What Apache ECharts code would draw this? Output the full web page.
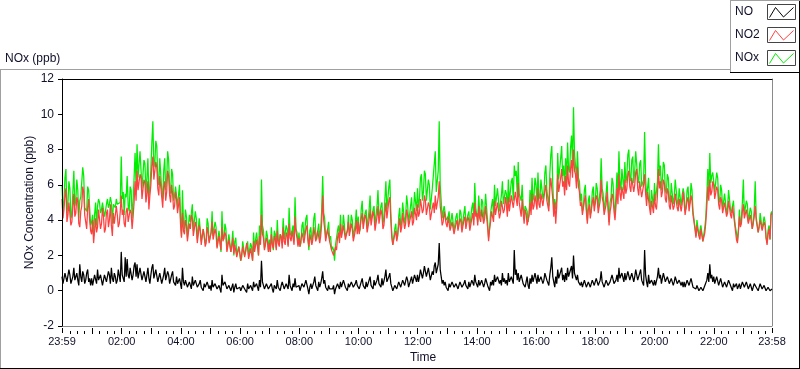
<!DOCTYPE html>
<html><head><meta charset="utf-8">
<script src="https://cdn.jsdelivr.net/npm/echarts@6/dist/echarts.min.js"></script>
<style>html,body{margin:0;padding:0;background:#fff}#c{width:800px;height:369px}</style>
</head><body><div id="c"></div>
<script>
// ---- data (one value every ~2 min, starting 23:59, ending 23:58 next day) ----
const seriesNames = ['NO', 'NO2', 'NOx'];
const seriesColors = ['#000000', '#ff4040', '#00ee00'];
const xTickMinutes = [0, 121, 241, 361, 481, 601, 721, 841, 961, 1081, 1201, 1321, 1439];
const xTickLabels = ['23:59', '02:00', '04:00', '06:00', '08:00', '10:00', '12:00', '14:00', '16:00', '18:00', '20:00', '22:00', '23:58'];
const totalMinutes = 1439;

const no2 = [
5.2,4.1,4.6,5.4,5.8,3.9,4.3,5.0,4.9,3.7,3.9,4.8,5.5,4.2,4.4,5.3,5.1,3.8,3.6,4.5,4.8,5.9,5.6,4.3,4.2,3.5,4.7,5.2,4.0,3.4,
3.2,4.0,2.7,3.4,4.1,3.3,3.6,4.6,4.5,3.5,3.8,4.7,4.2,3.3,3.5,4.4,4.6,3.6,4.0,4.9,3.7,3.1,4.4,3.8,3.9,4.8,4.3,3.6,3.8,4.5,
5.4,4.3,4.6,3.8,3.6,4.5,4.7,3.9,3.8,4.6,4.4,3.5,4.2,5.0,6.2,5.1,6.8,5.7,5.6,6.6,6.4,5.2,5.3,6.3,6.1,5.0,5.5,6.2,4.6,5.4,
6.0,7.1,7.6,6.3,6.4,7.3,7.0,5.8,5.4,6.5,6.6,5.3,4.7,5.9,6.2,5.1,5.6,6.8,6.5,5.4,5.0,6.0,5.5,4.6,4.8,5.6,5.2,4.4,4.5,5.3,
3.8,3.0,4.4,3.4,3.2,4.0,3.7,2.8,2.9,3.8,3.5,4.3,4.1,3.1,3.0,3.9,3.6,2.7,2.8,3.7,3.4,2.6,2.6,3.5,3.1,2.5,2.7,3.6,3.3,2.7,
2.6,3.3,3.9,2.9,2.8,3.5,3.2,2.4,2.4,3.1,3.0,2.3,3.6,2.8,2.7,3.3,3.1,2.2,2.3,2.9,2.9,2.2,2.5,3.0,2.1,2.6,2.6,1.9,2.0,2.5,
2.2,1.7,1.8,2.5,2.6,1.9,2.0,2.7,2.4,1.8,1.7,2.4,2.3,1.7,2.8,2.2,2.1,2.9,2.5,2.0,3.1,2.6,4.3,3.2,3.0,2.3,2.4,3.0,2.8,2.2,
2.7,2.2,3.2,2.6,2.4,3.1,2.9,2.3,3.4,2.7,2.5,3.2,3.0,2.4,3.6,2.8,2.6,3.3,3.1,2.5,3.8,3.0,2.8,3.4,3.3,2.6,4.2,3.3,3.0,2.5,
3.0,2.5,2.6,3.3,3.4,2.7,2.8,3.5,3.7,2.9,2.5,3.2,3.2,2.6,2.9,3.6,3.6,2.8,2.7,3.4,3.3,2.7,3.1,3.9,5.4,4.0,3.5,2.8,2.9,3.5,
3.6,2.8,2.9,2.3,2.4,2.0,1.9,2.5,2.3,3.0,3.3,2.7,3.8,3.0,3.1,3.7,3.6,2.9,2.8,3.4,3.9,3.1,3.2,3.8,3.5,2.8,2.7,3.4,4.0,3.2,
3.9,3.2,3.3,4.1,4.4,3.5,3.6,4.3,4.1,3.3,3.4,4.0,4.6,3.7,3.8,4.5,4.2,3.4,3.5,4.2,4.8,3.8,3.9,4.6,4.3,3.5,3.7,4.4,5.0,4.1,
4.6,5.1,5.3,4.0,3.0,2.6,2.6,3.2,3.4,2.8,2.9,3.7,4.1,3.3,3.6,4.4,4.4,3.5,3.8,4.6,4.3,3.6,3.5,4.2,4.5,3.7,3.9,4.7,4.8,4.0,
4.9,4.2,4.4,5.2,5.3,4.4,4.6,5.4,5.1,4.3,4.2,5.0,4.8,4.0,4.0,4.7,5.0,4.4,5.4,4.6,4.5,5.3,6.2,4.8,4.3,3.7,3.9,4.5,4.4,3.8,
3.6,4.2,4.1,3.4,3.3,3.9,3.8,3.2,3.2,3.8,4.0,3.4,3.5,4.1,3.9,3.3,3.3,4.0,4.2,3.5,3.6,4.2,4.0,3.4,3.4,4.1,4.4,3.7,5.0,4.2,
4.4,3.7,4.8,4.1,3.9,4.6,4.5,3.8,4.1,4.8,4.7,3.6,2.8,3.5,3.9,4.5,4.6,3.9,5.1,4.3,4.3,5.0,4.9,4.1,4.4,5.1,5.2,4.4,4.6,5.3,
4.9,4.2,5.3,4.5,4.6,5.4,5.5,4.7,4.8,5.6,5.6,4.8,6.1,5.0,4.9,4.2,5.2,4.4,3.8,4.6,4.4,3.7,3.6,4.3,5.0,4.3,5.5,4.6,4.8,5.4,
5.3,4.6,5.8,4.9,4.7,5.5,5.5,4.8,4.9,5.7,6.0,5.1,5.2,4.5,5.7,6.4,6.3,5.2,4.2,5.0,3.8,4.8,6.6,5.6,5.6,6.4,6.9,5.9,6.2,5.4,
6.5,5.7,7.1,6.1,5.9,6.9,7.4,6.4,8.0,6.8,6.6,5.8,7.0,5.9,5.6,4.8,5.0,4.3,4.4,5.1,5.4,4.5,3.8,4.6,4.9,4.1,4.2,5.0,5.3,4.5,
4.6,5.4,5.2,4.4,4.4,5.1,6.3,5.3,5.0,4.3,4.2,4.9,5.6,4.6,3.7,4.5,4.8,5.5,5.3,4.5,4.0,4.8,5.8,4.9,6.6,5.5,5.1,5.9,6.0,5.2,
6.3,5.5,5.8,6.6,6.8,5.9,5.6,6.4,6.5,5.6,6.0,6.7,6.9,5.8,5.4,6.2,6.2,5.3,5.2,6.0,6.6,5.5,4.8,5.6,5.5,4.7,4.3,5.1,5.0,4.4,
5.5,4.8,4.6,5.4,6.9,5.8,6.2,5.3,5.6,6.3,6.1,5.2,5.0,5.8,5.6,4.8,4.6,5.4,5.3,4.6,4.8,5.5,5.5,4.7,4.5,5.2,5.2,4.5,4.9,5.6,
5.0,4.3,4.4,5.1,5.3,4.5,4.6,5.4,5.1,4.3,4.2,3.5,3.0,3.7,3.8,3.1,2.9,3.5,3.4,2.8,2.7,3.3,3.9,4.8,5.9,5.1,6.3,5.4,5.6,6.2,
6.0,5.2,5.2,5.9,5.7,4.9,4.6,5.3,5.1,4.4,4.3,5.0,4.9,4.2,4.4,5.1,5.0,4.3,4.1,4.8,4.7,3.9,3.4,2.9,2.7,3.4,4.2,3.6,3.8,4.5,
4.9,4.1,4.0,4.6,4.5,3.8,3.7,4.3,4.2,3.5,3.6,4.2,4.8,4.0,3.9,3.3,3.4,4.0,4.0,3.4,3.3,3.9,3.7,3.0,2.6,3.2,3.5,2.9,4.3,4.4
];

const no = [
0.8,0.4,0.5,1.0,1.1,0.5,0.6,1.2,0.9,0.4,0.4,0.8,1.3,0.6,0.7,1.0,0.6,0.3,1.5,0.8,0.5,1.1,0.9,0.4,0.6,1.0,1.2,0.5,0.7,0.3,
0.7,0.3,0.4,0.9,0.9,0.4,1.2,0.6,0.5,0.9,0.8,0.3,0.4,0.9,1.0,0.5,0.6,1.1,0.9,0.4,1.3,0.7,0.5,1.0,0.8,0.4,0.6,1.2,1.1,0.5,
2.2,0.9,1.0,0.5,1.9,0.8,1.8,0.9,0.7,1.3,1.3,0.6,0.9,1.4,1.6,0.8,1.5,0.7,0.8,1.3,1.4,0.6,0.6,1.1,1.1,0.5,0.9,1.3,0.7,0.4,
0.9,1.3,1.5,0.7,0.8,1.2,1.2,0.5,0.6,1.0,1.0,0.4,0.5,0.9,1.3,0.6,0.7,1.1,0.9,0.4,0.5,0.9,1.1,0.5,0.6,0.3,0.8,0.4,0.4,0.7,
0.4,0.1,1.3,0.5,0.3,0.6,0.5,0.2,0.2,0.5,0.4,0.1,0.8,0.3,0.3,0.6,0.5,0.2,0.2,0.4,0.6,0.2,0.3,0.0,0.4,0.2,0.2,0.5,0.5,0.1,
0.3,0.0,0.6,0.2,0.2,0.4,0.4,0.1,0.1,0.3,0.3,-0.1,0.9,0.3,0.2,0.5,0.4,0.1,0.1,0.3,0.3,0.0,0.2,0.4,-0.1,0.2,0.4,0.1,0.2,0.0,
0.2,0.0,0.1,0.3,0.3,0.1,0.2,-0.1,0.4,0.1,0.1,0.3,0.2,0.0,0.5,0.2,0.2,0.4,0.3,0.0,0.6,0.2,1.7,0.5,0.4,0.1,0.2,0.4,0.3,0.1,
0.2,0.0,0.4,0.1,-0.1,0.3,0.3,0.1,0.6,0.2,0.2,0.0,0.3,0.5,0.5,0.1,0.2,0.4,0.4,0.1,0.9,0.3,0.3,0.0,0.4,0.2,0.7,0.2,0.3,0.1,
0.3,0.0,0.1,0.4,0.5,0.2,0.2,0.6,0.6,0.1,-0.2,0.2,0.4,0.1,0.3,0.5,0.8,0.3,0.2,0.0,0.5,0.2,0.4,0.7,1.1,0.4,0.6,0.2,0.3,0.0,
0.3,0.1,0.2,0.0,0.1,0.3,-0.2,0.1,0.2,0.4,0.4,0.1,0.5,0.2,0.3,0.6,0.6,0.2,0.2,0.0,0.4,0.2,0.3,0.5,0.5,0.2,0.2,0.4,0.6,0.3,
0.3,0.1,0.2,0.5,0.7,0.3,0.3,0.1,0.5,0.2,0.2,0.6,0.8,0.3,0.4,0.1,0.6,0.3,0.3,0.6,0.9,0.4,0.5,0.2,0.7,0.3,0.4,0.8,1.2,0.5,
0.6,0.8,1.0,0.4,0.2,0.0,0.1,0.3,0.4,0.1,0.2,0.5,0.6,0.2,0.3,0.6,0.7,0.3,0.4,0.8,0.6,0.2,0.3,0.6,0.8,0.4,0.5,0.9,0.9,0.5,
0.9,0.5,0.8,1.2,1.3,0.7,1.0,1.4,1.5,0.8,0.9,1.3,1.2,0.6,0.7,1.1,0.9,1.4,1.6,1.0,1.1,1.5,2.7,1.2,0.8,0.4,0.6,0.3,0.5,0.2,
0.3,0.0,0.4,0.2,0.2,0.5,0.5,0.2,0.2,0.4,0.4,0.1,0.3,0.5,0.5,0.2,0.2,0.4,0.6,0.3,0.3,0.1,0.5,0.2,0.3,0.6,0.6,0.3,0.9,0.5,
0.4,0.2,0.6,0.3,0.3,0.6,0.5,0.2,0.4,0.7,0.7,0.3,0.2,0.0,0.5,0.3,0.6,0.3,0.9,0.5,0.5,0.8,0.8,0.4,0.6,0.3,1.0,0.5,0.7,0.4,
0.6,0.3,1.0,0.5,0.5,0.8,0.9,0.4,2.3,0.9,1.2,0.6,1.0,0.5,0.6,0.9,0.8,0.4,0.4,0.2,0.5,0.8,0.3,0.1,0.7,0.4,0.9,0.5,0.6,1.0,
0.7,0.4,0.9,0.5,0.5,0.8,0.8,0.4,0.6,1.0,1.1,0.6,0.6,0.3,0.9,1.3,1.9,0.8,0.5,0.2,0.8,0.4,1.2,0.7,0.7,1.1,1.3,0.6,0.9,0.5,
1.0,0.6,1.3,0.8,0.8,1.2,1.4,0.7,2.0,1.0,1.1,0.6,0.9,0.5,0.6,0.3,0.5,0.2,0.3,0.6,0.6,0.2,0.2,0.5,0.5,0.2,0.3,0.6,0.6,0.3,
0.4,0.7,0.6,0.3,0.3,0.6,1.1,0.5,0.5,0.2,0.3,0.6,0.6,0.3,0.2,0.5,0.5,0.9,0.8,0.4,0.3,0.6,0.9,0.5,1.3,0.7,0.6,1.0,0.9,0.5,
1.0,0.6,0.7,1.1,1.2,0.6,0.6,1.0,1.1,0.5,0.8,1.2,1.1,0.6,0.7,1.0,1.2,0.6,0.6,0.3,2.3,0.9,0.5,0.2,0.9,0.4,0.3,0.6,0.6,0.3,
0.6,0.3,0.4,0.8,1.3,0.7,0.9,0.4,0.7,1.0,1.0,0.5,0.5,0.8,0.8,0.4,0.4,0.7,0.7,0.3,0.5,0.8,0.8,0.4,0.3,0.6,0.6,0.3,0.5,0.2,
0.5,0.2,0.3,0.6,0.6,0.3,0.4,0.7,0.6,0.2,0.3,0.1,0.1,0.3,0.3,0.0,0.1,0.2,0.2,0.0,0.1,0.3,0.3,0.6,1.0,0.5,1.5,0.7,0.9,0.5,
0.8,0.4,0.5,0.8,0.7,0.3,0.4,0.7,0.6,0.2,0.3,0.5,0.5,0.2,0.3,0.6,0.6,0.3,0.3,0.0,0.4,0.2,0.2,0.4,0.1,0.0,0.4,0.1,0.3,0.5,
0.6,0.2,0.3,0.5,0.4,0.1,0.2,0.4,0.3,0.0,0.2,0.4,0.5,0.2,0.3,0.0,0.2,0.4,0.3,0.1,0.1,0.3,0.2,0.0,0.1,0.2,0.2,0.0,0.1,0.1
];

const nox = [
6.0,4.5,5.1,6.4,6.9,4.4,4.9,6.2,5.8,4.1,4.3,5.6,6.8,4.8,5.1,6.3,5.7,4.1,5.1,5.3,5.3,7.0,6.5,4.7,4.8,4.5,5.9,5.7,4.7,3.7,
3.9,4.3,3.1,4.3,5.0,3.7,4.8,5.2,5.0,4.4,4.6,5.0,4.6,4.2,4.5,4.9,5.2,4.7,4.9,5.3,5.0,3.8,4.9,4.8,4.7,5.2,4.9,4.8,4.9,5.0,
7.6,5.2,5.6,4.3,5.5,5.3,6.5,4.8,4.5,5.9,5.7,4.1,5.1,6.4,7.8,5.9,8.3,6.4,6.4,7.9,7.8,5.8,5.9,7.4,7.2,5.5,6.4,7.5,5.3,5.8,
6.9,8.4,9.6,7.0,7.2,8.5,8.2,6.3,6.0,7.5,7.6,5.7,5.2,6.8,7.5,5.7,6.3,7.9,7.4,5.8,5.5,6.9,6.6,5.1,5.4,5.9,6.0,4.8,4.9,6.0,
4.2,3.1,5.7,3.9,3.5,4.6,4.2,3.0,3.1,4.3,3.9,4.4,4.9,3.4,3.3,4.5,4.1,2.9,3.0,4.1,4.0,2.8,2.9,3.5,3.5,2.7,2.9,4.1,3.8,2.8,
2.9,3.3,4.5,3.1,3.0,3.9,3.6,2.5,2.5,3.4,3.3,2.2,4.5,3.1,2.9,3.8,3.5,2.3,2.4,3.2,3.2,2.2,2.7,3.4,2.0,2.8,3.0,2.0,2.2,2.5,
2.4,1.7,1.9,2.8,2.9,2.0,2.2,2.6,2.8,1.9,1.8,2.7,2.5,1.7,3.3,2.4,2.3,3.3,2.8,2.0,3.7,2.8,6.3,3.7,3.4,2.4,2.6,3.4,3.1,2.3,
2.9,2.2,3.6,2.7,2.3,3.4,3.2,2.4,4.0,2.9,2.7,3.2,3.3,2.9,4.1,2.9,2.8,3.7,3.5,2.6,4.7,3.3,3.1,3.4,3.7,2.8,5.3,3.5,3.3,2.6,
3.3,2.5,2.7,3.7,3.9,2.9,3.0,4.1,4.3,3.0,2.3,3.4,3.6,2.7,3.2,4.1,4.4,3.1,2.9,3.4,3.8,2.9,3.5,4.6,6.5,4.4,4.1,3.0,3.2,3.5,
3.9,2.9,3.1,2.3,2.5,2.3,1.7,2.6,2.5,3.4,3.7,2.8,4.3,3.2,3.4,4.3,4.2,3.1,3.0,3.4,4.3,3.3,3.5,4.3,4.0,3.0,2.9,3.8,4.6,3.5,
4.2,3.3,3.5,4.6,5.1,3.8,3.9,4.4,4.6,3.5,3.6,4.6,5.4,4.0,4.2,4.6,4.8,3.7,3.8,4.8,5.7,4.2,4.4,4.8,5.0,3.8,4.1,5.2,6.2,4.6,
5.2,5.9,6.3,4.4,3.2,2.6,2.7,3.5,3.8,2.9,3.1,4.2,4.7,3.5,3.9,5.0,5.1,3.8,4.2,5.4,4.9,3.8,3.8,4.8,5.3,4.1,4.4,5.6,5.7,4.5,
5.8,4.7,5.2,6.4,6.6,5.1,5.6,6.8,6.6,5.1,5.1,6.3,6.0,4.6,4.7,5.8,5.9,5.8,7.9,5.6,5.6,6.8,9.6,6.0,5.1,4.1,4.5,4.8,4.9,4.0,
3.9,4.2,4.5,3.6,3.5,4.4,4.3,3.4,3.4,4.2,4.4,3.5,3.8,4.6,4.4,3.5,3.5,4.4,4.8,3.8,3.9,4.3,4.5,3.6,3.7,4.7,5.0,4.0,6.1,4.7,
4.8,3.9,5.4,4.4,4.2,5.2,5.0,4.0,4.5,5.5,5.4,3.9,3.0,3.5,4.4,4.8,5.2,4.2,6.0,4.8,4.8,5.8,5.7,4.5,5.0,5.4,6.2,4.9,5.3,5.7,
5.5,4.5,6.3,5.0,5.1,6.2,6.4,5.1,7.1,6.5,6.8,5.4,7.3,5.5,5.5,5.1,6.0,4.8,4.2,4.8,4.9,4.5,3.9,4.4,5.7,4.7,6.4,5.1,5.4,6.4,
6.0,5.0,6.7,5.4,5.2,6.3,6.3,5.2,5.5,6.7,7.1,5.7,5.8,4.8,6.6,7.7,8.2,6.0,4.7,5.2,4.6,5.2,7.8,6.3,6.3,7.5,8.2,6.5,7.1,5.9,
7.5,6.3,8.4,6.9,6.7,8.1,8.8,7.1,10.4,7.8,7.7,6.4,7.9,6.4,6.2,5.1,5.5,4.5,4.7,5.7,6.0,4.7,4.0,5.1,5.4,4.3,4.5,5.6,5.9,4.8,
5.0,6.1,5.8,4.7,4.7,5.7,7.5,5.8,5.5,4.5,4.5,5.5,6.2,4.9,3.9,5.0,5.3,6.4,6.1,4.9,4.3,5.4,6.7,5.4,7.9,6.2,5.7,6.9,6.9,5.7,
7.3,6.1,6.5,7.7,8.0,6.5,6.2,7.4,7.6,6.1,6.8,7.9,8.0,6.4,6.1,7.2,7.4,5.9,5.8,6.3,9.0,6.4,5.3,5.8,6.4,5.1,4.6,5.7,5.6,4.7,
6.1,5.1,5.0,6.2,8.3,6.5,7.1,5.7,6.3,7.3,7.1,5.7,5.5,6.6,6.4,5.2,5.0,6.1,6.0,4.9,5.3,6.3,6.3,5.1,4.8,5.8,5.8,4.8,5.4,5.8,
5.5,4.5,4.7,5.7,5.9,4.8,5.0,6.1,5.7,4.5,4.5,3.6,3.1,4.0,4.1,3.1,3.0,3.7,3.6,2.8,2.8,3.6,4.2,5.4,6.9,5.6,7.8,6.1,6.5,6.7,
6.8,5.6,5.7,6.7,6.4,5.2,5.0,6.0,5.7,4.6,4.6,5.5,5.4,4.4,4.7,5.7,5.6,4.6,4.4,4.8,5.1,4.1,3.6,3.3,2.8,3.4,4.6,3.7,4.1,5.0,
6.3,4.3,4.3,5.1,4.9,3.9,3.9,4.7,4.5,3.5,3.8,4.6,6.2,4.2,4.2,3.3,3.6,4.4,4.3,3.5,3.4,4.2,3.9,3.0,2.7,3.4,3.7,2.9,4.4,4.5
];

// ---- build ----
function toPairs(arr) {
  const n = arr.length;
  return arr.map((v, i) => [i * totalMinutes / (n - 1), v]);
}
const hourTicks = [0];
for (let h = 1; h <= 23; h++) hourTicks.push(1 + 60 * h);
hourTicks.push(totalMinutes);
const quarterTicks = [];
for (let q = 1; q <= 95; q++) quarterTicks.push(1 + 15 * q);

const FONT = '"Liberation Sans", Arial, sans-serif';
const TXT = '#10102a';
const GL = 62, GT = 79, GW = 710, GH = 250;
const LW = 1.25;

const chart = echarts.init(document.getElementById('c'), null, {renderer: 'canvas'});

function legendItem(idx, yTop) {
  const x0 = 767.5, y0 = yTop + 0.5, w = 28, h = 15;
  return [
    {type: 'text', style: {text: seriesNames[idx], x: 735, y: yTop + 8, fill: TXT, font: '12px ' + FONT, verticalAlign: 'middle', align: 'left'}},
    {type: 'rect', shape: {x: x0, y: y0, width: w, height: h}, style: {fill: '#fff', stroke: '#444', lineWidth: 1}},
    {type: 'polyline', shape: {points: [[x0 + 2, y0 + 13], [x0 + 8, y0 + 3], [x0 + 16, y0 + 12.5], [x0 + 26, y0 + 3]]},
     style: {stroke: seriesColors[idx], fill: null, lineWidth: 1}}
  ];
}

const option = {
  animation: false,
  textStyle: {fontFamily: FONT},
  grid: [
    {left: GL, top: GT, width: GW, height: GH, show: false, containLabel: false},
    {left: GL, top: GT, width: GW, height: GH, show: false, containLabel: false}
  ],
  xAxis: [
    {gridIndex: 0, type: 'value', position: 'bottom', min: 0, max: totalMinutes, offset: 2,
     axisLine: {show: false, onZero: false},
     axisTick: {show: true, length: 5, customValues: hourTicks, lineStyle: {color: '#000'}},
     axisLabel: {customValues: xTickMinutes, margin: 8, color: TXT, fontSize: 11, fontFamily: FONT,
       formatter: v => { const k = xTickMinutes.indexOf(Math.round(v)); return k >= 0 ? xTickLabels[k] : ''; }},
     splitLine: {show: false},
     name: 'Time', nameLocation: 'middle', nameGap: 24, nameMoveOverlap: false,
     nameTextStyle: {color: TXT, fontSize: 12, fontFamily: FONT, padding: [0, 0, 0, 12]}},
    {gridIndex: 0, type: 'value', position: 'top', min: 0, max: totalMinutes, z: 5,
     axisLine: {show: true, onZero: false, lineStyle: {color: '#000'}}, axisTick: {show: false}, axisLabel: {show: false}, splitLine: {show: false}},
    {gridIndex: 1, type: 'value', position: 'bottom', min: 0, max: totalMinutes, offset: 2,
     axisLine: {show: false, onZero: false},
     axisTick: {show: true, length: 3, customValues: quarterTicks, lineStyle: {color: '#000'}},
     axisLabel: {show: false}, splitLine: {show: false}}
  ],
  yAxis: [
    {gridIndex: 0, type: 'value', position: 'left', min: -2, max: 12, interval: 2, z: 5,
     axisLine: {show: true, onZero: false, lineStyle: {color: '#000'}},
     axisTick: {show: true, length: 4, lineStyle: {color: '#000'}},
     axisLabel: {margin: 8, color: TXT, fontSize: 12, fontFamily: FONT},
     splitLine: {show: false},
     name: 'NOx Concentration (ppb)', nameLocation: 'middle', nameGap: 26, nameMoveOverlap: false,
     nameTextStyle: {color: TXT, fontSize: 12, fontFamily: FONT}},
    {gridIndex: 0, type: 'value', position: 'right', min: -2, max: 12, interval: 14,
     axisLine: {show: true, onZero: false, lineStyle: {color: '#8a8a8a'}}, axisTick: {show: false}, axisLabel: {show: false},
     splitLine: {show: true, lineStyle: {color: '#8a8a8a'}}},
    {gridIndex: 1, type: 'value', min: -2, max: 12, show: false}
  ],
  series: [
    {name: seriesNames[2], type: 'line', xAxisIndex: 0, yAxisIndex: 0, data: toPairs(nox), showSymbol: false, symbol: 'none',
     lineStyle: {color: seriesColors[2], width: LW}, itemStyle: {color: seriesColors[2]}, z: 2},
    {name: seriesNames[1], type: 'line', xAxisIndex: 0, yAxisIndex: 0, data: toPairs(no2), showSymbol: false, symbol: 'none',
     lineStyle: {color: seriesColors[1], width: LW}, itemStyle: {color: seriesColors[1]}, z: 3},
    {name: seriesNames[0], type: 'line', xAxisIndex: 0, yAxisIndex: 0, data: toPairs(no), showSymbol: false, symbol: 'none',
     lineStyle: {color: seriesColors[0], width: LW}, itemStyle: {color: seriesColors[0]}, z: 4}
  ],
  graphic: [
    {type: 'group', silent: true, children: [
      {type: 'line', shape: {x1: 0, y1: 69.5, x2: 730, y2: 69.5}, style: {stroke: '#a0a0a0', lineWidth: 1}},
      {type: 'line', shape: {x1: 0.5, y1: 69, x2: 0.5, y2: 368}, style: {stroke: '#a0a0a0', lineWidth: 1}},
      {type: 'line', shape: {x1: 0, y1: 368.5, x2: 800, y2: 368.5}, style: {stroke: '#000', lineWidth: 1}},
      {type: 'line', shape: {x1: 799.5, y1: 0, x2: 799.5, y2: 369}, style: {stroke: '#000', lineWidth: 1}},
      {type: 'line', shape: {x1: 730.5, y1: 0, x2: 730.5, y2: 72}, style: {stroke: '#a0a0a0', lineWidth: 1}},
      {type: 'line', shape: {x1: 730, y1: 0.5, x2: 800, y2: 0.5}, style: {stroke: '#a0a0a0', lineWidth: 1}},
      {type: 'line', shape: {x1: 730, y1: 72.5, x2: 800, y2: 72.5}, style: {stroke: '#000', lineWidth: 1}},
      {type: 'text', style: {text: 'NOx (ppb)', x: 5, y: 59, fill: TXT, font: '12px ' + FONT, verticalAlign: 'middle'}}
    ].concat(legendItem(0, 4), legendItem(1, 27), legendItem(2, 50))}
  ]
};
chart.setOption(option);
</script>
</body></html>
